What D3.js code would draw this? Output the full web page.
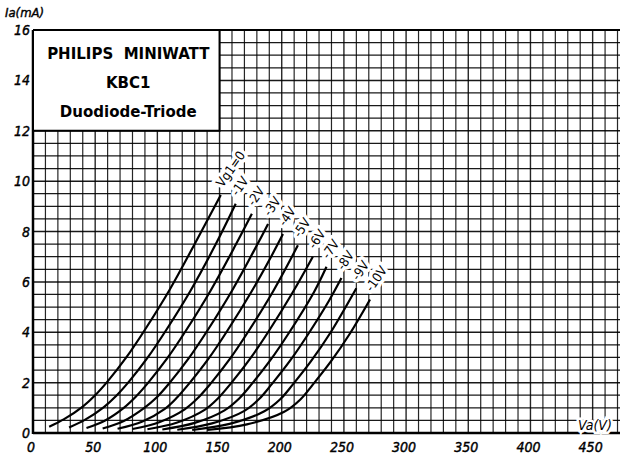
<!DOCTYPE html>
<html>
<head>
<meta charset="utf-8">
<script src="https://cdn.jsdelivr.net/npm/d3@7"></script>
<style>
  html, body { margin: 0; padding: 0; background: #fff; }
  svg { display: block; }
  .tick-lbl { font-family: "DejaVu Sans Condensed", "DejaVu Sans", sans-serif; font-style: italic; font-size: 14px; fill: #000;
              stroke: #000; stroke-width: 0.4px; }
  .title { font-family: "DejaVu Sans", sans-serif; font-weight: bold; font-size: 15px; fill: #000; }
  .curve-lbl { font-family: "DejaVu Sans Condensed", "DejaVu Sans", sans-serif; font-size: 13px; fill: #000;
               stroke: #fff; stroke-width: 7px; paint-order: stroke; stroke-linejoin: round; }
</style>
</head>
<body>
<div id="chart"></div>
<script>
const w = 627,
      h = 456;

// axis ticks
const vaTicks = [0, 50, 100, 150, 200, 250, 300, 350, 400, 450];
const iaTicks = [0, 2, 4, 6, 8, 10, 12, 14, 16];

// grid voltage of each curve and its label
const gridVolts = [0, -1, -2, -3, -4, -5, -6, -7, -8, -9, -10];
const gridLabels = ['Vg1=0', '-1V', '-2V', '-3V', '-4V', '-5V', '-6V', '-7V', '-8V', '-9V', '-10V'];

// Ia (mA) against Va (V)
const vg0  = [[13,0.25],[25,0.55],[40,1.05],[50,1.5],[60,2.05],[75,3.0],[90,4.1],[110,5.7],[130,7.5],[151,9.45]];
const vg1  = [[29,0.22],[42,0.53],[57,1.03],[67,1.48],[77,2.03],[92,2.98],[107,4.08],[127,5.68],[147,7.5],[163,9.1]];
const vg2  = [[43,0.2],[58,0.5],[73,1.0],[83,1.46],[93,2.02],[108,2.97],[123,4.07],[143,5.67],[163,7.47],[176,8.7]];
const vg3  = [[56,0.18],[73,0.48],[89,0.98],[100,1.44],[110,2.0],[125,2.95],[140,4.05],[160,5.65],[180,7.45],[189,8.3]];
const vg4  = [[68,0.17],[88,0.46],[106,0.96],[116,1.42],[126,1.99],[141,2.94],[156,4.04],[176,5.64],[192,7.05],[201,7.9]];
const vg5  = [[80,0.16],[102,0.44],[122,0.94],[133,1.41],[143,1.97],[158,2.92],[173,4.02],[193,5.62],[213,7.45]];
const vg6  = [[92,0.15],[116,0.42],[138,0.92],[149,1.39],[159,1.96],[174,2.91],[189,4.0],[209,5.6],[225,7.0]];
const vg7  = [[104,0.14],[130,0.4],[154,0.9],[166,1.38],[176,1.95],[191,2.9],[206,3.99],[226,5.6],[236,6.6]];
const vg8  = [[116,0.13],[144,0.38],[170,0.88],[182,1.36],[192,1.94],[207,2.89],[222,3.98],[238,5.25],[248,6.15]];
const vg9  = [[128,0.12],[158,0.36],[186,0.86],[199,1.35],[209,1.93],[224,2.88],[239,3.97],[260,5.75]];
const vg10 = [[140,0.12],[172,0.34],[202,0.84],[215,1.33],[225,1.92],[240,2.87],[255,3.96],[271,5.3]];
const curveData = [vg0, vg1, vg2, vg3, vg4, vg5, vg6, vg7, vg8, vg9, vg10];

const titleLines = ['PHILIPS  MINIWATT', 'KBC1', 'Duodiode-Triode'];

const svg = d3.select('#chart').append('svg')
              .attr('width', w)
              .attr('height', h);

const x = d3.scaleLinear().domain([0, 472]).range([33, 620]);
const y = d3.scaleLinear().domain([0, 16]).range([433, 30]);

// grid: every 10 V and every 0.5 mA
const gridG = svg.append('g');
gridG.selectAll('line.gv')
     .data(d3.range(0, 471, 10))
     .enter().append('line')
     .attr('x1', d => x(d)).attr('x2', d => x(d))
     .attr('y1', y(0)).attr('y2', y(16))
     .attr('stroke', '#000')
     .attr('stroke-width', d => d % 50 === 0 ? 1.4 : 1.2)
     .attr('stroke-opacity', 0.85);
gridG.selectAll('line.gh')
     .data(d3.range(0, 16.01, 0.5))
     .enter().append('line')
     .attr('x1', x(0)).attr('x2', x(472))
     .attr('y1', d => y(d)).attr('y2', d => y(d))
     .attr('stroke', '#000')
     .attr('stroke-width', d => d % 2 === 0 ? 1.5 : 1.2)
     .attr('stroke-opacity', 0.9);

// frame lines
svg.append('line').attr('x1', x(0)).attr('x2', x(0)).attr('y1', y(0) + 1).attr('y2', y(16))
   .attr('stroke', '#000').attr('stroke-width', 2.5);
svg.append('line').attr('x1', x(0)).attr('x2', x(472)).attr('y1', y(0)).attr('y2', y(0))
   .attr('stroke', '#000').attr('stroke-width', 2.5);
svg.append('line').attr('x1', x(0)).attr('x2', x(472)).attr('y1', y(16)).attr('y2', y(16))
   .attr('stroke', '#000').attr('stroke-width', 2);

// title box
svg.append('rect')
   .attr('x', x(0) + 1).attr('y', y(16) + 1)
   .attr('width', x(150) - x(0) - 1).attr('height', y(12) - y(16) - 1)
   .attr('fill', '#fff');
svg.append('path')
   .attr('d', `M${x(150)},${y(16)}V${y(12)}H${x(0)}`)
   .attr('fill', 'none').attr('stroke', '#000').attr('stroke-width', 2);
svg.selectAll('text.title')
   .data(titleLines)
   .enter().append('text')
   .attr('class', 'title')
   .attr('x', (x(0) + x(150)) / 2 + 2)
   .attr('y', (d, i) => 59 + i * 29)
   .attr('text-anchor', 'middle')
   .style('white-space', 'pre')
   .text(d => d);

// curves
const line = d3.line()
               .x(d => x(d[0]))
               .y(d => y(d[1]))
               .curve(d3.curveCatmullRom.alpha(0.5));
svg.selectAll('path.curve')
   .data(curveData)
   .enter().append('path')
   .attr('class', 'curve')
   .attr('d', line)
   .attr('fill', 'none')
   .attr('stroke', '#000')
   .attr('stroke-width', 2.2);

// curve labels along the tips
svg.selectAll('text.curve-lbl')
   .data(curveData)
   .enter().append('text')
   .attr('class', 'curve-lbl')
   .attr('transform', d => {
       const tip = d[d.length - 1];
       return `translate(${x(tip[0]) + 2},${y(tip[1]) - 7}) rotate(-55)`;
   })
   .text((d, i) => gridLabels[i]);

// tick labels
svg.selectAll('text.xl')
   .data(vaTicks)
   .enter().append('text')
   .attr('class', 'tick-lbl')
   .attr('x', d => x(d) - 2)
   .attr('y', 452)
   .attr('text-anchor', 'middle')
   .text(d => d);
svg.selectAll('text.yl')
   .data(iaTicks)
   .enter().append('text')
   .attr('class', 'tick-lbl')
   .attr('x', 30)
   .attr('y', d => y(d) + 5)
   .attr('text-anchor', 'end')
   .text(d => d);

// axis titles
svg.append('text').attr('class', 'tick-lbl')
   .attr('x', 5).attr('y', 17).style('font-size', '13px')
   .text('Ia(mA)');
svg.append('text').attr('class', 'tick-lbl')
   .attr('x', 578).attr('y', 430)
   .style('stroke', '#fff').style('stroke-width', '5px').style('paint-order', 'stroke')
   .text('Va(V)');
</script>
</body>
</html>
